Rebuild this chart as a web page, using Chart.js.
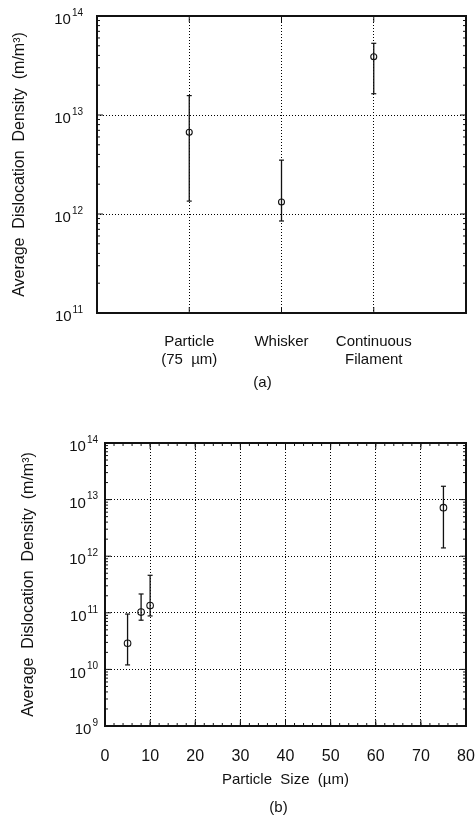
<!DOCTYPE html>
<html><head><meta charset="utf-8">
<script src="https://cdn.jsdelivr.net/npm/chart.js@4.4.0/dist/chart.umd.min.js"></script>
<style>
html,body{margin:0;padding:0;background:#fff;}
#wrap{position:relative;width:475px;height:819px;overflow:hidden;}
canvas{position:absolute;left:0;}
#chartA{top:0;}
#chartB{top:400px;}
</style></head><body>
<div id="wrap">
<canvas id="chartA" width="475" height="400"></canvas>
<canvas id="chartB" width="475" height="419"></canvas>
</div>
<script>
// ---- Data: chart (a) ----
const categories = ['Particle (75 µm)', 'Whisker', 'Continuous Filament'];
const categoryLabels = [['Particle', '(75  µm)'], ['Whisker'], ['Continuous', 'Filament']];
const densityA = [6.7e12, 1.32e12, 3.87e13];
const lowA = [1.35e12, 8.5e11, 1.64e13];
const highA = [1.57e13, 3.5e12, 5.3e13];
const yTicksA = [1e11, 1e12, 1e13, 1e14];

// ---- Data: chart (b) ----
const particleSize = [5, 8, 10, 75];
const densityB = [2.9e10, 1.03e11, 1.34e11, 7.2e12];
const lowB = [1.2e10, 7.4e10, 8.8e10, 1.4e12];
const highB = [9.5e10, 2.15e11, 4.6e11, 1.72e13];
const yTicksB = [1e9, 1e10, 1e11, 1e12, 1e13, 1e14];
const xTicksB = [0, 10, 20, 30, 40, 50, 60, 70, 80];

const FONT = "'Liberation Sans', Arial, Helvetica, sans-serif";
const INK = '#111';

function errorBars(xs, lo, hi) {
  return xs.map((x, i) => ({
    type: 'line',
    data: [{x: x, y: lo[i]}, {x: x, y: hi[i]}],
    borderColor: INK, borderWidth: 1.3,
    pointStyle: 'line', pointRadius: 2.5, pointBorderWidth: 1.2,
    pointBorderColor: INK, showLine: true, fill: false
  }));
}
function points(xs, ys, r) {
  return {
    type: 'scatter',
    data: xs.map((x, i) => ({x: x, y: ys[i]})),
    pointStyle: 'circle', pointRadius: r, pointBorderWidth: 1.1,
    pointBorderColor: INK, pointBackgroundColor: 'rgba(255,255,255,0)'
  };
}

// inner tick marks + frame
const frameTicks = {
  id: 'frameTicks',
  afterDatasetsDraw(chart, args, opts) {
    const {ctx, chartArea: a, scales: {x, y}} = chart;
    ctx.save();
    ctx.strokeStyle = INK;
    ctx.lineWidth = 1;
    ctx.beginPath();
    const e0 = Math.round(Math.log10(y.min)), e1 = Math.round(Math.log10(y.max));
    for (let e = e0; e <= e1; e++) {
      const py = y.getPixelForValue(Math.pow(10, e));
      ctx.moveTo(a.left, py); ctx.lineTo(a.left + opts.major, py);
      ctx.moveTo(a.right, py); ctx.lineTo(a.right - opts.major, py);
      if (e < e1) for (let m = 2; m <= 9; m++) {
        const p = y.getPixelForValue(m * Math.pow(10, e));
        ctx.moveTo(a.left, p); ctx.lineTo(a.left + opts.minor, p);
        ctx.moveTo(a.right, p); ctx.lineTo(a.right - opts.minor, p);
      }
    }
    x.ticks.forEach(t => {
      const px = x.getPixelForValue(t.value);
      ctx.moveTo(px, a.bottom); ctx.lineTo(px, a.bottom - opts.major);
      ctx.moveTo(px, a.top); ctx.lineTo(px, a.top + opts.major);
    });
    if (opts.xMinor) {
      for (let v = x.min; v <= x.max + 1e-9; v += opts.xMinor) {
        const px = x.getPixelForValue(v);
        ctx.moveTo(px, a.bottom); ctx.lineTo(px, a.bottom - opts.minor);
        ctx.moveTo(px, a.top); ctx.lineTo(px, a.top + opts.minor);
      }
    }
    ctx.stroke();
    ctx.lineWidth = 2;
    ctx.strokeRect(a.left, a.top, a.right - a.left, a.bottom - a.top);
    ctx.restore();
  }
};

// y tick labels as 10 with raised exponent, placed by the log scale
const powLabels = {
  id: 'powLabels',
  afterDraw(chart, args, opts) {
    const {ctx, chartArea: a, scales: {y}} = chart;
    ctx.save();
    ctx.fillStyle = INK;
    ctx.textBaseline = 'middle';
    ctx.textAlign = 'left';
    y.ticks.forEach(t => {
      const py = y.getPixelForValue(t.value);
      const e = String(Math.round(Math.log10(t.value)));
      ctx.font = '10px ' + FONT;
      const we = ctx.measureText(e).width;
      ctx.font = '15px ' + FONT;
      const wb = ctx.measureText('10').width;
      const xr = a.left - opts.pad;
      ctx.fillText('10', xr - we - 1 - wb, py + 4);
      ctx.font = '10px ' + FONT;
      ctx.fillText(e, xr - we, py - 3);
    });
    ctx.restore();
  }
};

const caption = {
  id: 'caption',
  afterDraw(chart, args, opts) {
    const {ctx, chartArea: a} = chart;
    ctx.save();
    ctx.fillStyle = INK;
    ctx.font = '15px ' + FONT;
    ctx.textAlign = 'center';
    ctx.textBaseline = 'middle';
    ctx.fillText(opts.text, (a.left + a.right) / 2 + opts.dx, opts.y);
    ctx.restore();
  }
};

const gridStyle = {color: '#000', lineWidth: 1, drawTicks: false};
const borderStyle = {display: false, dash: [1, 2]};
const yTitle = 'Average  Dislocation  Density  (m/m³)';

// ---- Chart (a) ----
new Chart(document.getElementById('chartA'), {
  type: 'scatter',
  data: {datasets: [...errorBars(categories.map((c, i) => i + 1), lowA, highA), points(categories.map((c, i) => i + 1), densityA, 3)]},
  options: {
    responsive: false, animation: false,
    layout: {padding: {top: 16, right: 9, left: 0, bottom: 0}},
    plugins: {
      legend: {display: false}, tooltip: {enabled: false},
      frameTicks: {major: 6, minor: 3, xMinor: 0},
      powLabels: {pad: 14},
      caption: {text: '(a)', dx: -19, y: 383}
    },
    scales: {
      x: {
        type: 'linear', min: 0, max: categories.length + 1,
        afterBuildTicks: s => { s.ticks = categories.map((c, i) => ({value: i + 1})); },
        afterFit: s => { s.height = 87; s.paddingLeft = 0; s.paddingRight = 0; },
        grid: gridStyle, border: borderStyle,
        ticks: {padding: 19, autoSkip: false, maxRotation: 0, color: INK,
          font: {size: 15, family: FONT, lineHeight: 1.25},
          callback: v => categoryLabels[Math.round(v) - 1]}
      },
      y: {
        type: 'logarithmic', min: yTicksA[0], max: yTicksA[yTicksA.length - 1],
        afterBuildTicks: s => { s.ticks = yTicksA.map(v => ({value: v})); },
        afterFit: s => { s.width = 97; },
        grid: gridStyle, border: borderStyle,
        ticks: {display: false},
        title: {display: true, text: yTitle, color: INK, font: {size: 16, family: FONT}, padding: {top: 10, bottom: 0}}
      }
    }
  },
  plugins: [frameTicks, powLabels, caption]
});

// ---- Chart (b) ----
new Chart(document.getElementById('chartB'), {
  type: 'scatter',
  data: {datasets: [...errorBars(particleSize, lowB, highB), points(particleSize, densityB, 3.3)]},
  options: {
    responsive: false, animation: false,
    layout: {padding: {top: 43, right: 9, left: 0, bottom: 0}},
    plugins: {
      legend: {display: false}, tooltip: {enabled: false},
      frameTicks: {major: 6, minor: 3, xMinor: 2},
      powLabels: {pad: 7},
      caption: {text: '(b)', dx: -7, y: 408}
    },
    scales: {
      x: {
        type: 'linear', min: xTicksB[0], max: xTicksB[xTicksB.length - 1],
        afterBuildTicks: s => { s.ticks = xTicksB.map(v => ({value: v})); },
        afterFit: s => { s.height = 93; s.paddingLeft = 0; s.paddingRight = 0; },
        grid: gridStyle, border: borderStyle,
        ticks: {padding: 21, autoSkip: false, maxRotation: 0, color: INK, font: {size: 16, family: FONT}},
        title: {display: true, text: 'Particle  Size  (µm)', color: INK, font: {size: 15, family: FONT}, padding: {top: 0, bottom: 30}}
      },
      y: {
        type: 'logarithmic', min: yTicksB[0], max: yTicksB[yTicksB.length - 1],
        afterBuildTicks: s => { s.ticks = yTicksB.map(v => ({value: v})); },
        afterFit: s => { s.width = 105; },
        grid: gridStyle, border: borderStyle,
        ticks: {display: false},
        title: {display: true, text: yTitle, color: INK, font: {size: 16, family: FONT}, padding: {top: 19, bottom: 0}}
      }
    }
  },
  plugins: [frameTicks, powLabels, caption]
});
</script>
</body></html>
